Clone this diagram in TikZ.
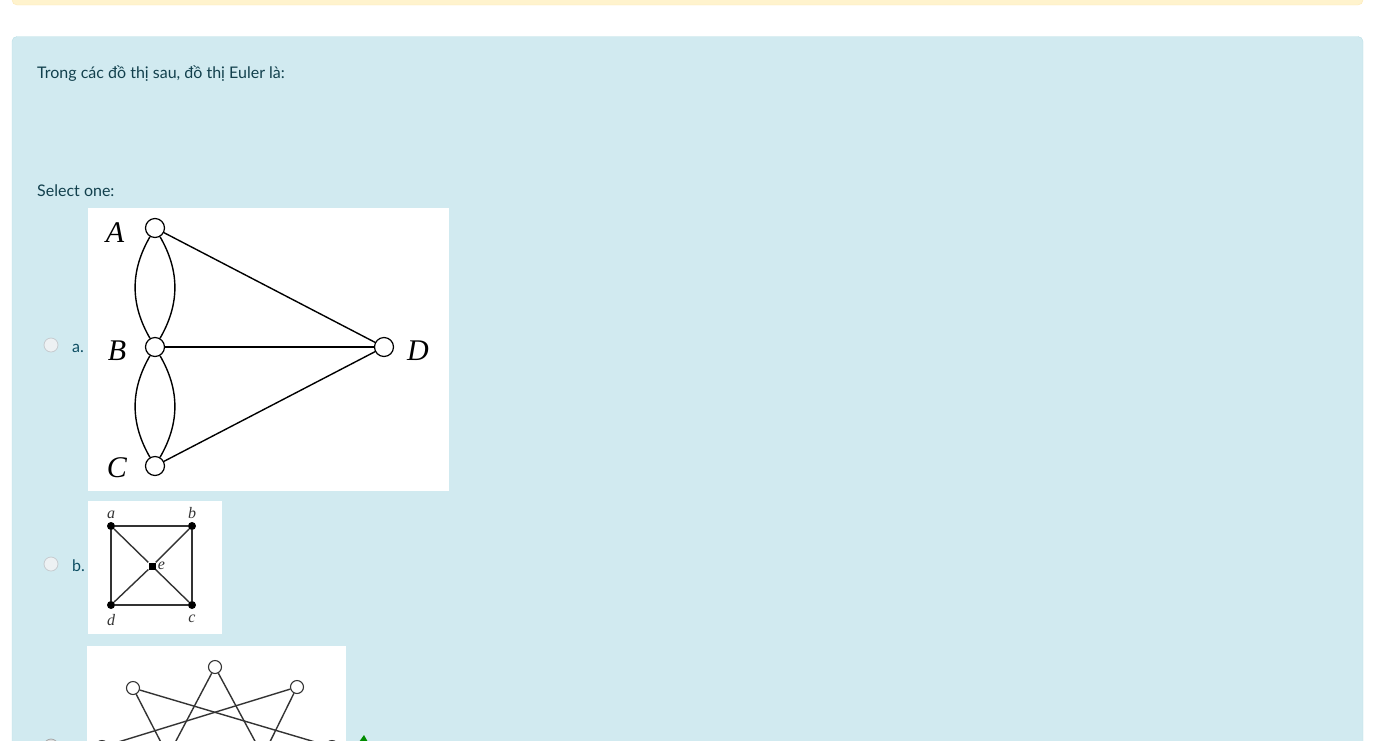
\documentclass[tikz,border=0pt]{standalone}
\usepackage{fontspec}
\setmainfont{Lato}
\newfontfamily\graphfont{Liberation Serif}
\usetikzlibrary{positioning}

\definecolor{warnfill}{HTML}{FFF3CD}
\definecolor{warnline}{HTML}{FCE9B8}
\definecolor{infofill}{HTML}{D1EAF0}
\definecolor{infoline}{HTML}{BADFE6}
\definecolor{quetext}{HTML}{12404D}
\definecolor{optlabel}{HTML}{0D4E63}
\definecolor{radiofill}{HTML}{EDF1F3}
\definecolor{radioline}{HTML}{C6CBCF}
\definecolor{edgegray}{HTML}{333333}

\tikzset{
	picbox/.style={rectangle,fill=white,draw=none,inner sep=0pt,anchor=north west},
	radio/.style={circle,draw=radioline,fill=radiofill,line width=0.8pt,inner sep=0pt,minimum size=14pt},
	vtx/.style={circle,draw=black,fill=white,line width=1.2pt,inner sep=0pt,minimum size=19pt},
	dot/.style={circle,fill=black,inner sep=0pt,minimum size=8pt},
	sqdot/.style={rectangle,fill=black,inner sep=0pt,minimum size=7pt},
	ring/.style={circle,draw=edgegray,fill=white,line width=1.1pt,inner sep=0pt,minimum size=13pt},
	edge/.style={line width=1.4pt,black},
	thinedge/.style={line width=1.4pt,edgegray},
	biglbl/.style={font=\graphfont\itshape\fontsize{30}{30}\selectfont,inner sep=0pt},
	smalllbl/.style={font=\graphfont\itshape\fontsize{16}{16}\selectfont,inner sep=0pt,edgegray},
	uitext/.style={font=\fontsize{16}{18}\selectfont,text=quetext,inner sep=0pt,anchor=base west}
}

\begin{document}
\begin{tikzpicture}[x=1pt,y=-1pt]
\useasboundingbox (0,0) rectangle (1381,740);
\clip (0,0) rectangle (1381,740);

% alert panels
\draw[warnline,fill=warnfill,rounded corners=5pt] (12,-20) rectangle (1363,5);
\draw[infoline,fill=infofill,rounded corners=5pt] (12,36.5) rectangle (1363,780);

% question
\node[uitext] (question) at (37,78) {Trong các đồ thị sau, đồ thị Euler là:};
\node[uitext] (select) at (37,196) {Select one:};

% option a
\node[radio] (ra) at (51,345) {};
\node[uitext,text=optlabel] (la) at (72,352) {a.};
\node[picbox,minimum width=361pt,minimum height=283pt] (pica) at (88,208) {};
\begin{scope}
	\node[vtx] (A) at (155,228) {};
	\node[vtx] (B) at (155,347) {};
	\node[vtx] (C) at (155,466) {};
	\node[vtx] (D) at (384,347) {};
	\node[biglbl] (labA) at (115,233) {A};
	\node[biglbl] (labB) at (117,351) {B};
	\node[biglbl] (labC) at (117,468) {C};
	\node[biglbl] (labD) at (418,351) {D};
	\draw[edge] (A) to[bend right=30] (B);
	\draw[edge] (A) to[bend left=30] (B);
	\draw[edge] (B) to[bend right=30] (C);
	\draw[edge] (B) to[bend left=30] (C);
	\draw[edge] (A) -- (D);
	\draw[edge] (B) -- (D);
	\draw[edge] (C) -- (D);
\end{scope}

% option b
\node[radio] (rb) at (51,564) {};
\node[uitext,text=optlabel] (lb) at (72,571) {b.};
\node[picbox,minimum width=134pt,minimum height=133pt] (picb) at (88,501) {};
\begin{scope}
	\node[dot] (a) at (111,526) {};
	\node[dot] (b) at (192,526) {};
	\node[dot] (c) at (192,605) {};
	\node[dot] (d) at (111,605) {};
	\node[sqdot] (e) at (152,566) {};
	\node[smalllbl,above=3pt of a] (laba) {a};
	\node[smalllbl,above=3pt of b] (labb) {b};
	\node[smalllbl,below=6pt of c] (labc) {c};
	\node[smalllbl,below=5pt of d] (labd) {d};
	\node[smalllbl,right=2pt of e] (labe) {e};
	\draw[thinedge] (a) -- (b) -- (c) -- (d) -- (a);
	\draw[thinedge] (a) -- (e) -- (c);
	\draw[thinedge] (b) -- (e) -- (d);
\end{scope}

% option c
\node[radio,draw=gray!70,fill=gray!25] (rc) at (51,746) {};
\node[picbox,minimum width=259pt,minimum height=120pt] (picc) at (87,646) {};
\begin{scope}
	\node[ring] (top) at (215,667) {};
	\node[ring] (upl) at (133,688) {};
	\node[ring] (upr) at (297,687) {};
	\node[ring] (lowl) at (102,747) {};
	\node[ring] (lowr) at (332,747) {};
	\node[ring] (botl) at (168,756) {};
	\node[ring] (botr) at (263,756) {};
	\draw[thinedge] (top) -- (botl);
	\draw[thinedge] (top) -- (botr);
	\draw[thinedge] (upl) -- (botl);
	\draw[thinedge] (upr) -- (botr);
	\draw[thinedge] (upl) -- (lowr);
	\draw[thinedge] (upr) -- (lowl);
\end{scope}
\fill[green!55!black] (359,742) -- (364,735) -- (368,742) -- cycle;

\end{tikzpicture}
\end{document}
